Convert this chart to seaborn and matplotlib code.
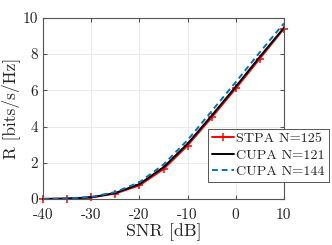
import numpy as np
import pandas as pd
import matplotlib
matplotlib.use("Agg")
import matplotlib.pyplot as plt
import seaborn as sns

# data
snr_db = [-40, -35, -30, -25, -20, -15, -10, -5, 0, 5, 10]
stpa_125 = [0.0, 0.02, 0.08, 0.30, 0.75, 1.65, 2.95, 4.50, 6.10, 7.75, 9.40]
cupa_121 = [0.0, 0.02, 0.09, 0.33, 0.82, 1.75, 3.05, 4.60, 6.20, 7.85, 9.45]
cupa_144 = [0.0, 0.03, 0.11, 0.38, 0.92, 1.90, 3.25, 4.85, 6.45, 8.10, 9.70]
names = ['STPA N=125', 'CUPA N=121', 'CUPA N=144']

df = pd.concat([
    pd.DataFrame({'snr': snr_db, 'rate': vals, 'scheme': n})
    for n, vals in zip(names, [stpa_125, cupa_121, cupa_144])
])

sns.set_style("whitegrid")
plt.rcParams['font.family'] = ['cmr10', 'DejaVu Serif']
plt.rcParams['mathtext.fontset'] = 'cm'
plt.rcParams['axes.unicode_minus'] = False
plt.rcParams['axes.formatter.use_mathtext'] = False

fig, ax = plt.subplots(figsize=(3.32, 2.45), dpi=100)
fig.subplots_adjust(left=0.13, right=0.855, top=0.927, bottom=0.188)

sns.lineplot(data=df, x='snr', y='rate', hue='scheme', style='scheme', ax=ax,
             palette={names[0]: 'red', names[1]: 'black', names[2]: '#0072BD'},
             dashes={names[0]: '', names[1]: '', names[2]: (3, 2)},
             markers={names[0]: '+', names[1]: '', names[2]: ''},
             markersize=6, markeredgewidth=1.1, markeredgecolor='red', lw=1.4,
             clip_on=False)

ax.set_xlim(-40, 10)
ax.set_ylim(0, 10)
ax.set_xticks(range(-40, 11, 10))
ax.set_xticklabels([str(v) for v in range(-40, 11, 10)])
ax.set_yticks(range(0, 11, 2))
ax.set_xlabel("SNR [dB]", fontsize=13, labelpad=1)
ax.set_ylabel("R [bits/s/Hz]", fontsize=12.5, labelpad=2)
ax.tick_params(labelsize=11, direction='in', length=3, color='#555555',
               top=True, right=True, bottom=True, left=True)
ax.tick_params(axis='x', pad=7)
ax.tick_params(axis='y', pad=3.5)
ax.grid(True, color='#e6e6e6', lw=0.6)
for s in ax.spines.values():
    s.set_color('#555555')
    s.set_linewidth(0.8)

leg = ax.legend(loc='upper left', bbox_to_anchor=(0.685, 0.387), fontsize=10.2,
                frameon=True, fancybox=False, handlelength=1.6,
                handletextpad=0.15, borderpad=0.25, labelspacing=0.25,
                borderaxespad=0)
leg.get_frame().set_edgecolor('#555555')
leg.get_frame().set_linewidth(0.7)
leg.get_frame().set_alpha(1)

fig.savefig("out.png", dpi=100)
